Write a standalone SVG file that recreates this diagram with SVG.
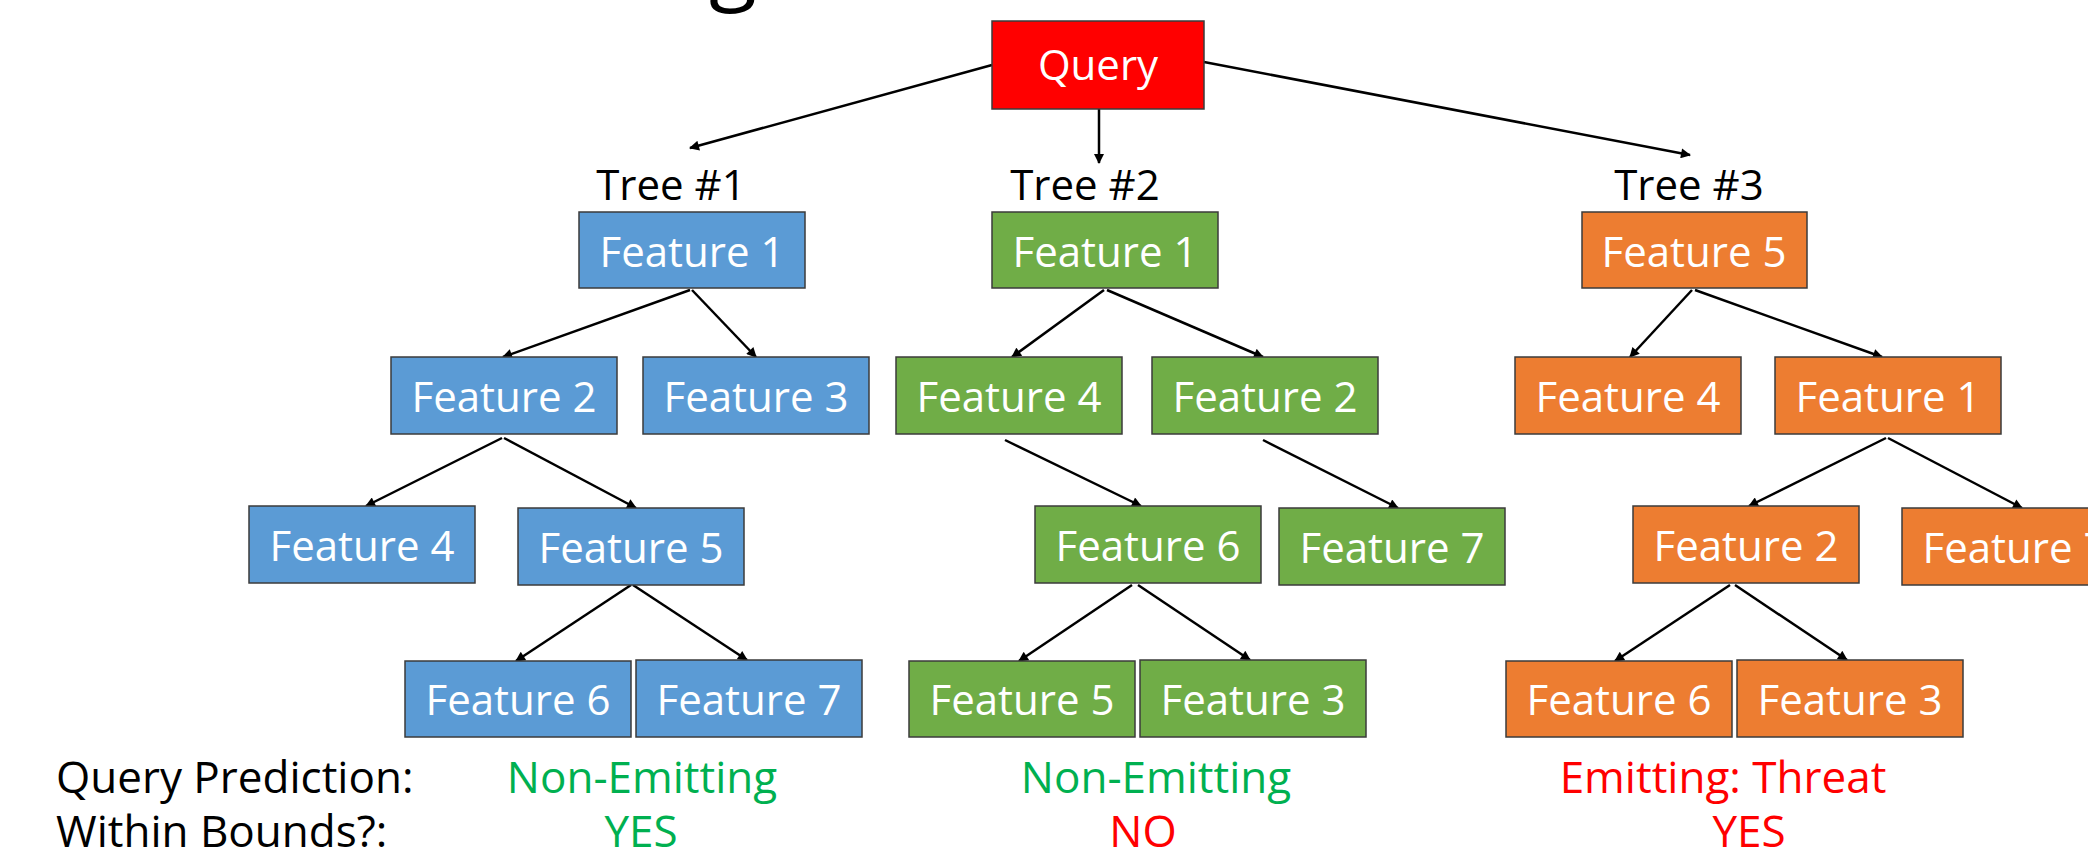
<svg xmlns="http://www.w3.org/2000/svg" width="2088" height="857" viewBox="0 0 2088 857">
<defs>
<style>
.box{stroke:#3b3b3b;stroke-width:1.5}
.blue{fill:#5B9BD5}.green{fill:#70AD47}.orange{fill:#ED7D31}.red{fill:#FF0000}
.lbl{font-family:"Open Sans","Liberation Sans",sans-serif;font-size:42px;fill:#fff;text-anchor:middle}
.tree{font-family:"Open Sans","Liberation Sans",sans-serif;font-size:42px;fill:#000;text-anchor:middle}
.bot{font-family:"Open Sans","Liberation Sans",sans-serif;font-size:44px}
.conn line{stroke:#000;stroke-width:2.5;marker-end:url(#ah)}
</style>
<marker id="ah" viewBox="0 0 10 10" refX="9" refY="5" markerWidth="12" markerHeight="10" markerUnits="userSpaceOnUse" orient="auto"><path d="M0,0 L10,5 L0,10 z" fill="#000"/></marker>
</defs>
<rect width="2088" height="857" fill="#fff"/>
<text x="733" y="-7" font-family="Open Sans, Liberation Sans, sans-serif" font-size="88" text-anchor="middle" fill="#000">g</text>

<g id="connectors" class="conn">
<line x1="992" y1="65" x2="690" y2="148"/>
<line x1="1099" y1="109" x2="1099" y2="163"/>
<line x1="1204" y1="62" x2="1690" y2="155"/>
<line x1="690" y1="290" x2="503" y2="357"/>
<line x1="692" y1="290" x2="756" y2="357"/>
<line x1="502" y1="438" x2="366" y2="506"/>
<line x1="504" y1="438" x2="636" y2="508"/>
<line x1="631" y1="585" x2="516" y2="661"/>
<line x1="633" y1="585" x2="747" y2="660"/>
<line x1="1104" y1="290" x2="1012" y2="357"/>
<line x1="1107" y1="290" x2="1263" y2="357"/>
<line x1="1005" y1="440" x2="1141" y2="506"/>
<line x1="1263" y1="440" x2="1398" y2="508"/>
<line x1="1132" y1="585" x2="1019" y2="661"/>
<line x1="1138" y1="585" x2="1250" y2="660"/>
<line x1="1692" y1="290" x2="1630" y2="357"/>
<line x1="1695" y1="290" x2="1882" y2="357"/>
<line x1="1886" y1="438" x2="1749" y2="506"/>
<line x1="1888" y1="438" x2="2022" y2="508"/>
<line x1="1730" y1="585" x2="1615" y2="661"/>
<line x1="1735" y1="585" x2="1847" y2="660"/>
</g>

<g id="query"><rect class="box red" x="992" y="21" width="212" height="88"/><text class="lbl" x="1098" y="80">Query</text></g>

<text class="tree" x="671" y="200">Tree #1</text>
<text class="tree" x="1085" y="200">Tree #2</text>
<text class="tree" x="1689" y="200">Tree #3</text>

<g id="t1-f1"><rect class="box blue" x="579" y="212" width="226" height="76"/><text class="lbl" x="692" y="267">Feature 1</text></g>
<g id="t1-f2"><rect class="box blue" x="391" y="357" width="226" height="77"/><text class="lbl" x="504" y="412">Feature 2</text></g>
<g id="t1-f3"><rect class="box blue" x="643" y="357" width="226" height="77"/><text class="lbl" x="756" y="412">Feature 3</text></g>
<g id="t1-f4"><rect class="box blue" x="249" y="506" width="226" height="77"/><text class="lbl" x="362" y="561">Feature 4</text></g>
<g id="t1-f5"><rect class="box blue" x="518" y="508" width="226" height="77"/><text class="lbl" x="631" y="563">Feature 5</text></g>
<g id="t1-f6"><rect class="box blue" x="405" y="661" width="226" height="76"/><text class="lbl" x="518" y="715">Feature 6</text></g>
<g id="t1-f7"><rect class="box blue" x="636" y="660" width="226" height="77"/><text class="lbl" x="749" y="715">Feature 7</text></g>

<g id="t2-f1"><rect class="box green" x="992" y="212" width="226" height="76"/><text class="lbl" x="1105" y="267">Feature 1</text></g>
<g id="t2-f4"><rect class="box green" x="896" y="357" width="226" height="77"/><text class="lbl" x="1009" y="412">Feature 4</text></g>
<g id="t2-f2"><rect class="box green" x="1152" y="357" width="226" height="77"/><text class="lbl" x="1265" y="412">Feature 2</text></g>
<g id="t2-f6"><rect class="box green" x="1035" y="506" width="226" height="77"/><text class="lbl" x="1148" y="561">Feature 6</text></g>
<g id="t2-f7"><rect class="box green" x="1279" y="508" width="226" height="77"/><text class="lbl" x="1392" y="563">Feature 7</text></g>
<g id="t2-f5"><rect class="box green" x="909" y="661" width="226" height="76"/><text class="lbl" x="1022" y="715">Feature 5</text></g>
<g id="t2-f3"><rect class="box green" x="1140" y="660" width="226" height="77"/><text class="lbl" x="1253" y="715">Feature 3</text></g>

<g id="t3-f5"><rect class="box orange" x="1582" y="212" width="225" height="76"/><text class="lbl" x="1694" y="267">Feature 5</text></g>
<g id="t3-f4"><rect class="box orange" x="1515" y="357" width="226" height="77"/><text class="lbl" x="1628" y="412">Feature 4</text></g>
<g id="t3-f1"><rect class="box orange" x="1775" y="357" width="226" height="77"/><text class="lbl" x="1888" y="412">Feature 1</text></g>
<g id="t3-f2"><rect class="box orange" x="1633" y="506" width="226" height="77"/><text class="lbl" x="1746" y="561">Feature 2</text></g>
<g id="t3-f7"><rect class="box orange" x="1902" y="508" width="226" height="77"/><text class="lbl" x="2015" y="563">Feature 7</text></g>
<g id="t3-f6"><rect class="box orange" x="1506" y="661" width="226" height="76"/><text class="lbl" x="1619" y="715">Feature 6</text></g>
<g id="t3-f3"><rect class="box orange" x="1737" y="660" width="226" height="77"/><text class="lbl" x="1850" y="715">Feature 3</text></g>

<g id="results">
<text class="bot" x="56" y="793" fill="#000">Query Prediction:</text>
<text class="bot" x="56" y="847" fill="#000">Within Bounds?:</text>
<text class="bot" x="642" y="793" fill="#00B050" text-anchor="middle">Non-Emitting</text>
<text class="bot" x="641" y="847" fill="#00B050" text-anchor="middle">YES</text>
<text class="bot" x="1156" y="793" fill="#00B050" text-anchor="middle">Non-Emitting</text>
<text class="bot" x="1143" y="847" fill="#FF0000" text-anchor="middle">NO</text>
<text class="bot" x="1723" y="793" fill="#FF0000" text-anchor="middle">Emitting: Threat</text>
<text class="bot" x="1749" y="847" fill="#FF0000" text-anchor="middle">YES</text>
</g>
</svg>
